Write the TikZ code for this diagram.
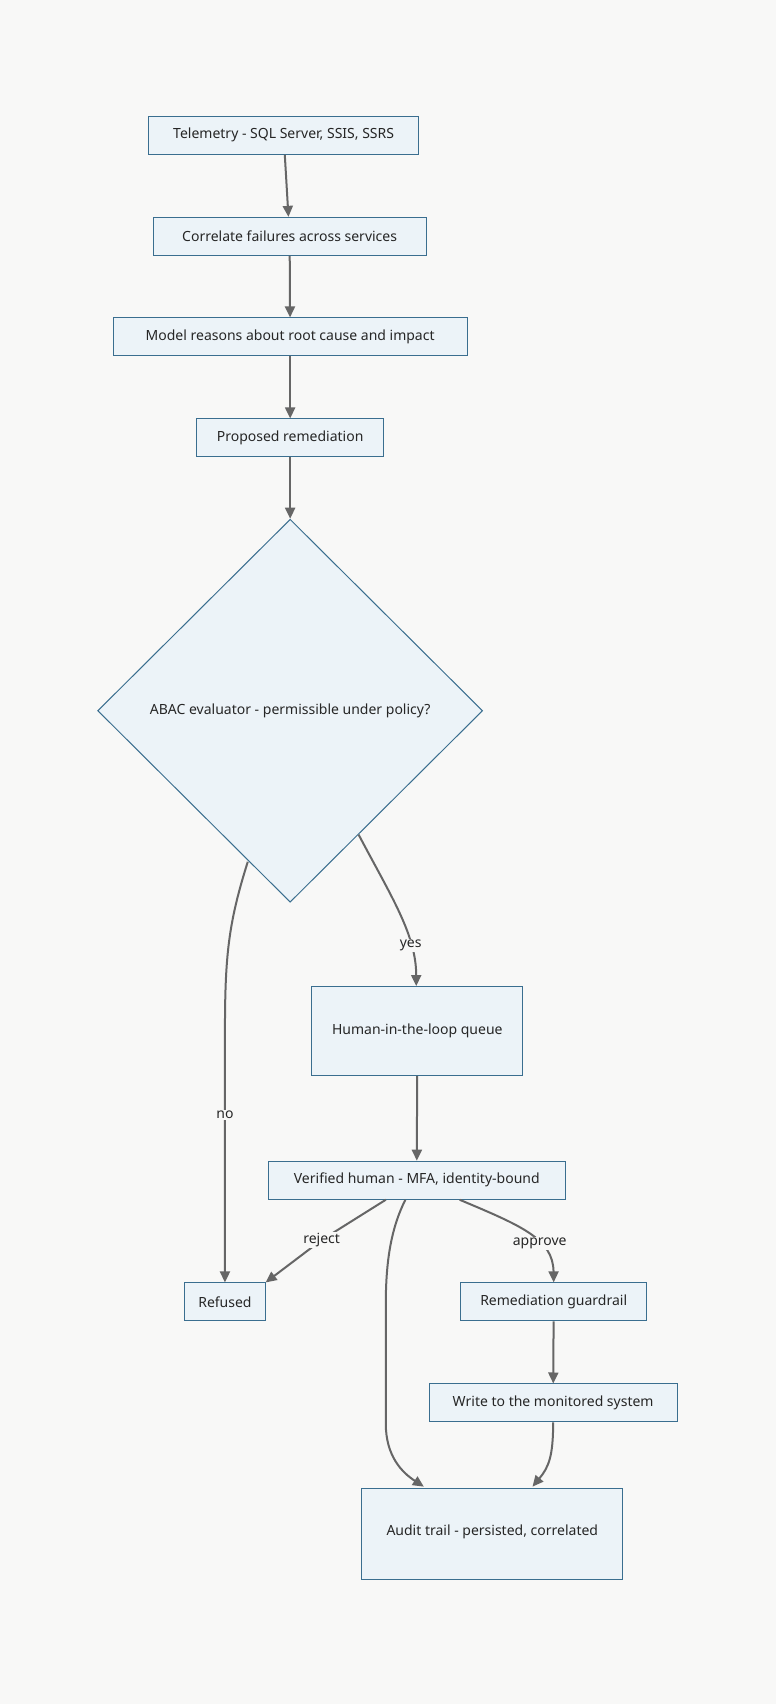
\documentclass[tikz,border=0pt]{standalone}
\usepackage{fontspec}
\setmainfont{Noto Sans}
\usetikzlibrary{shapes.geometric,arrows.meta}
\definecolor{bg}{HTML}{F8F8F7}
\definecolor{nfill}{HTML}{ECF3F8}
\definecolor{nline}{HTML}{3A6E8F}
\definecolor{eline}{HTML}{666666}
\begin{document}
\begin{tikzpicture}[x=1.0868pt,y=-1.0868pt,
  every node/.style={font=\fontsize{14}{16}\selectfont, text=black!85},
  box/.style={draw=nline,fill=nfill,line width=1pt,minimum height=38pt,inner sep=0pt},
  dia/.style={draw=nline,fill=nfill,line width=1pt,diamond,minimum width=385pt,minimum height=383pt,inner sep=0pt},
  cyl/.style={draw=nline,fill=nfill,line width=1pt,cylinder,shape border rotate=90,aspect=0.25,inner sep=0pt},
  edge/.style={draw=eline,line width=2pt,-{Triangle[length=11pt,width=10pt]}},
  lbl/.style={fill=bg,inner sep=1pt}]
\fill[bg] (0,0) rectangle (714,1568);
\node[box,minimum width=269.5pt] (tel) at (261,124.5) {Telemetry - SQL Server, SSIS, SSRS};
\node[box,minimum width=272.8pt] (cor) at (266.5,217.5) {Correlate failures across services};
\node[box,minimum width=354pt] (mod) at (267,310) {Model reasons about root cause and impact};
\node[box,minimum width=187pt] (pro) at (267,403) {Proposed remediation};
\node[dia] (aba) at (267,654) {};
\node at (267,654) {ABAC evaluator - permissible under policy?};
\node[cyl,minimum width=210.8pt,minimum height=89pt] (hit) at (384,949) {};
\node at (384,949) {Human-in-the-loop queue};
\node[box,minimum width=296.7pt] (ver) at (383.5,1086) {Verified human - MFA, identity-bound};
\node[box,minimum width=80.4pt] (ref) at (207,1198) {Refused};
\node[box,minimum width=185.8pt] (rem) at (509.5,1198) {Remediation guardrail};
\node[box,minimum width=247.8pt] (wri) at (509,1291) {Write to the monitored system};
\node[cyl,minimum width=260.8pt,minimum height=91pt] (aud) at (453,1412) {};
\node at (453,1410) {Audit trail - persisted, correlated};
\draw[edge] (tel) -- (cor);
\draw[edge] (cor) -- (mod);
\draw[edge] (mod) -- (pro);
\draw[edge] (pro) -- (aba);
\draw[edge] (330,768) .. controls (360,825) and (383,860) .. (hit.north -| 383,0) node[lbl,pos=0.72] {yes};
\draw[edge] (228,793) .. controls (210,850) and (207,880) .. (207,950) -- (ref.north) node[lbl,pos=0.33] {no};
\draw[edge] (hit) -- (ver);
\draw[edge] (355,1104) -- (296,1141) node[lbl] {reject} -- (ref.north east);
\draw[edge] (423,1104) .. controls (480,1128) and (509,1140) .. (rem.north) node[lbl,pos=0.62] {approve};
\draw[edge] (373,1104) .. controls (360,1130) and (355,1160) .. (355,1200) -- (355,1310) .. controls (355,1340) and (370,1355) .. (390,1368);
\draw[edge] (rem) -- (wri);
\draw[edge] (wri.south) .. controls (509,1340) and (505,1350) .. (490,1368);
\end{tikzpicture}
\end{document}
